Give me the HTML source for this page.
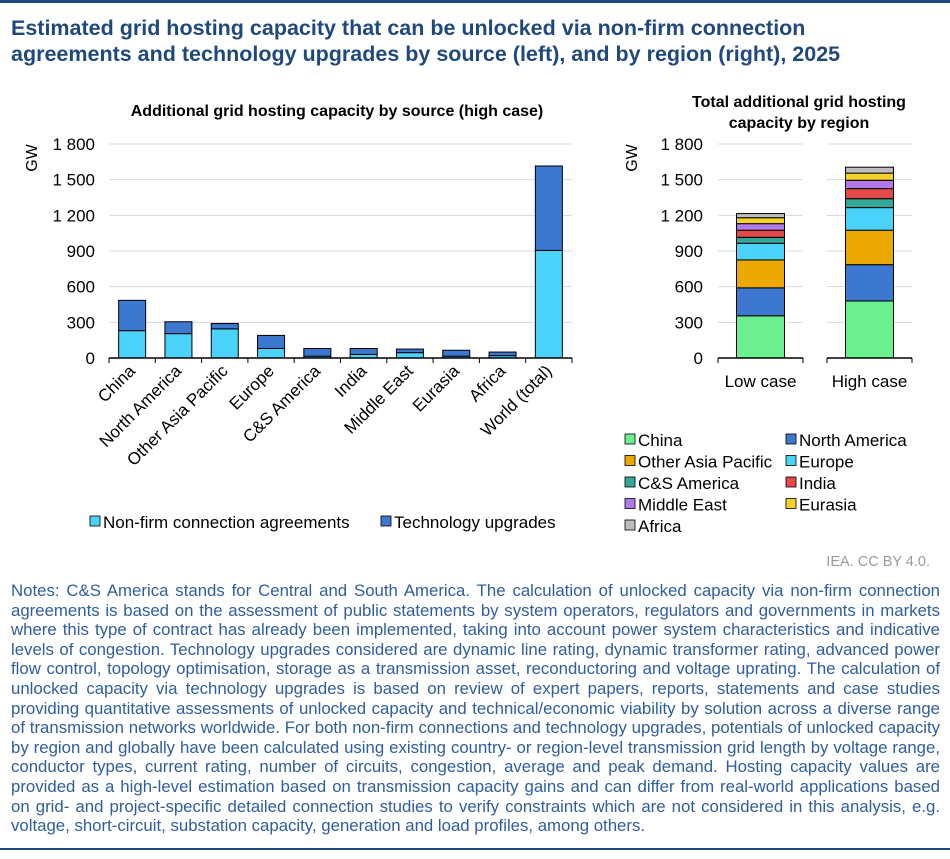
<!DOCTYPE html>
<html><head><meta charset="utf-8">
<style>
html,body{margin:0;padding:0;background:#fff;width:950px;height:859px;overflow:hidden;font-family:"Liberation Sans",Arial,sans-serif}
#title{position:absolute;left:11px;top:15px;width:850px;font-size:21.5px;font-weight:bold;color:#1f497d;line-height:26px;margin:0}
#notes{position:absolute;left:11px;top:581px;width:929px;font-size:16.8px;line-height:19.6px;color:#2e5e9e;text-align:justify}
#topline{position:absolute;left:0;top:0;width:950px;height:3px;background:#1f497d}
#botline{position:absolute;left:0;top:848px;width:950px;height:2px;background:#1f497d}
svg{position:absolute;left:0;top:0}
svg text{font-family:"Liberation Sans",Arial,sans-serif}
</style></head><body>
<div id="topline"></div>
<h1 id="title">Estimated grid hosting capacity that can be unlocked via non-firm connection agreements and technology upgrades by source (left), and by region (right), 2025</h1>
<svg id="chart" width="950" height="859"></svg>
<div id="notes">Notes: C&amp;S America stands for Central and South America. The calculation of unlocked capacity via non-firm connection agreements is based on the assessment of public statements by system operators, regulators and governments in markets where this type of contract has already been implemented, taking into account power system characteristics and indicative levels of congestion. Technology upgrades considered are dynamic line rating, dynamic transformer rating, advanced power flow control, topology optimisation, storage as a transmission asset, reconductoring and voltage uprating. The calculation of unlocked capacity via technology upgrades is based on review of expert papers, reports, statements and case studies providing quantitative assessments of unlocked capacity and technical/economic viability by solution across a diverse range of transmission networks worldwide. For both non-firm connections and technology upgrades, potentials of unlocked capacity by region and globally have been calculated using existing country- or region-level transmission grid length by voltage range, conductor types, current rating, number of circuits, congestion, average and peak demand. Hosting capacity values are provided as a high-level estimation based on transmission capacity gains and can differ from real-world applications based on grid- and project-specific detailed connection studies to verify constraints which are not considered in this analysis, e.g. voltage, short-circuit, substation capacity, generation and load profiles, among others.</div>
<div id="botline"></div>
<script>
const leftCategories = ["China","North America","Other Asia Pacific","Europe","C&S America","India","Middle East","Eurasia","Africa","World (total)"];
const nonFirm = [230,205,245,80,15,30,45,15,20,905];
const techUpgrades = [255,100,45,110,65,50,30,50,30,710];
const yTicks = [0,300,600,900,1200,1500,1800];
const yTickLabels = ["0","300","600","900","1 200","1 500","1 800"];
const rightCategories = ["Low case","High case"];
const regions = ["China","North America","Other Asia Pacific","Europe","C&S America","India","Middle East","Eurasia","Africa"];
const lowCase = [355,235,235,140,50,60,55,50,35];
const highCase = [480,305,290,190,75,85,70,60,50];

const regionColors = ["#6bef8f","#3c78d0","#eaa800","#4bd2fb","#33a898","#e54848","#b07be8","#f5d22a","#bdbdbd"];
const NS = "http://www.w3.org/2000/svg";
const svg = document.getElementById('chart');
function mk(tag, attrs, parent){const e=document.createElementNS(NS,tag);for(const k in attrs)e.setAttribute(k,attrs[k]);(parent||svg).appendChild(e);return e;}
function txt(s, attrs){const e=mk('text',attrs);e.textContent=s;return e;}

const Y0=358, YT=144, YMAX=1800;
const yScale = v => Y0 - v/YMAX*(Y0-YT);

// ---------- left chart ----------
const L={x0:109,x1:572};
const lband=(L.x1-L.x0)/leftCategories.length;
const lx = i => L.x0 + lband*(i+0.5);
let t=txt("Additional grid hosting capacity by source (high case)",{x:337,y:116,'font-size':16,'font-weight':'bold','text-anchor':'middle',fill:'#000'});


t=txt("GW",{x:0,y:0,'font-size':16,transform:'translate(37,158) rotate(-90)','text-anchor':'middle'});


yTicks.forEach((v,i)=>{
  if(v>0){const g=mk('line',{x1:L.x0,x2:L.x1,y1:yScale(v),y2:yScale(v),stroke:'#d9d9d9','stroke-width':1});
  
  }
  const tl=txt(yTickLabels[i],{x:95,y:yScale(v)+6,'font-size':17,'text-anchor':'end'});
  
  
});
leftCategories.forEach((c,i)=>{
  const bw=27, x=lx(i)-bw/2;
  const r1=mk('rect',{x:x,y:yScale(nonFirm[i]),width:bw,height:Y0-yScale(nonFirm[i]),fill:'#4bd2fb',stroke:'#000','stroke-width':1});
  
  
  const top=nonFirm[i]+techUpgrades[i];
  const r2=mk('rect',{x:x,y:yScale(top),width:bw,height:yScale(nonFirm[i])-yScale(top),fill:'#3c78d0',stroke:'#000','stroke-width':1});
  
  
  const tk=mk('line',{x1:L.x0+lband*i,x2:L.x0+lband*i,y1:Y0,y2:Y0+5,stroke:'#000'});
  
  
  const xl=txt(c,{x:0,y:0,'font-size':17,'text-anchor':'end',transform:`translate(${lx(i)+4},${Y0+14}) rotate(-45)`});
  
  
});
let ax=mk('line',{x1:L.x0,x2:L.x1,y1:Y0,y2:Y0,stroke:'#000','stroke-width':1.5});


mk('line',{x1:L.x1,x2:L.x1,y1:Y0,y2:Y0+5,stroke:'#000'});
// left legend
[["Non-firm connection agreements","#4bd2fb",90],["Technology upgrades","#3c78d0",381]].forEach(([n,col,x])=>{
  const r=mk('rect',{x:x,y:516,width:10,height:10,fill:col,stroke:'#000','stroke-width':0.8});
  
  
  const lt=txt(n,{x:x+13,y:528,'font-size':17});
  
  
});

// ---------- right chart ----------
const rSegs=[[718,803],[827,912]];
const rx=i=>(rSegs[i][0]+rSegs[i][1])/2;
t=txt("Total additional grid hosting",{x:799,y:107,'font-size':16,'font-weight':'bold','text-anchor':'middle'});


t=txt("capacity by region",{x:799,y:128,'font-size':16,'font-weight':'bold','text-anchor':'middle'});


t=txt("GW",{x:0,y:0,'font-size':16,transform:'translate(637,158) rotate(-90)','text-anchor':'middle'});


yTicks.forEach((v,i)=>{
  if(v>0){rSegs.forEach(s=>{const g=mk('line',{x1:s[0],x2:s[1],y1:yScale(v),y2:yScale(v),stroke:'#d9d9d9'});
  
  });}
  const tl=txt(yTickLabels[i],{x:703,y:yScale(v)+6,'font-size':17,'text-anchor':'end'});
  
  
});
[lowCase,highCase].forEach((series,i)=>{
  let acc=0; const bw=48, x=rx(i)-bw/2;
  series.forEach((v,k)=>{
    const r=mk('rect',{x:x,y:yScale(acc+v),width:bw,height:yScale(acc)-yScale(acc+v),fill:regionColors[k],stroke:'#000','stroke-width':1});
    
    
    acc+=v;
  });
  const s=rSegs[i];
  const a=mk('line',{x1:s[0],x2:s[1],y1:Y0,y2:Y0,stroke:'#000','stroke-width':1.5});
  
  
  mk('line',{x1:s[0],x2:s[0],y1:Y0,y2:Y0+5,stroke:'#000'});
  mk('line',{x1:s[1],x2:s[1],y1:Y0,y2:Y0+5,stroke:'#000'});
  const xl=txt(rightCategories[i],{x:rx(i),y:387,'font-size':17,'text-anchor':'middle'});
  
  
});
regions.forEach((n,k)=>{
  const col=k%2, row=Math.floor(k/2);
  const x=col?786:625, y=445+row*21.5;
  const r=mk('rect',{x:x,y:y-11,width:10,height:10,fill:regionColors[k],stroke:'#000','stroke-width':0.8});
  
  
  const lt=txt(n,{x:x+13,y:y+1,'font-size':17});
  
  
});
t=txt("IEA. CC BY 4.0.",{x:930,y:566,'font-size':14.5,'text-anchor':'end',fill:'#9a9a9a'});


</script>
</body></html>
